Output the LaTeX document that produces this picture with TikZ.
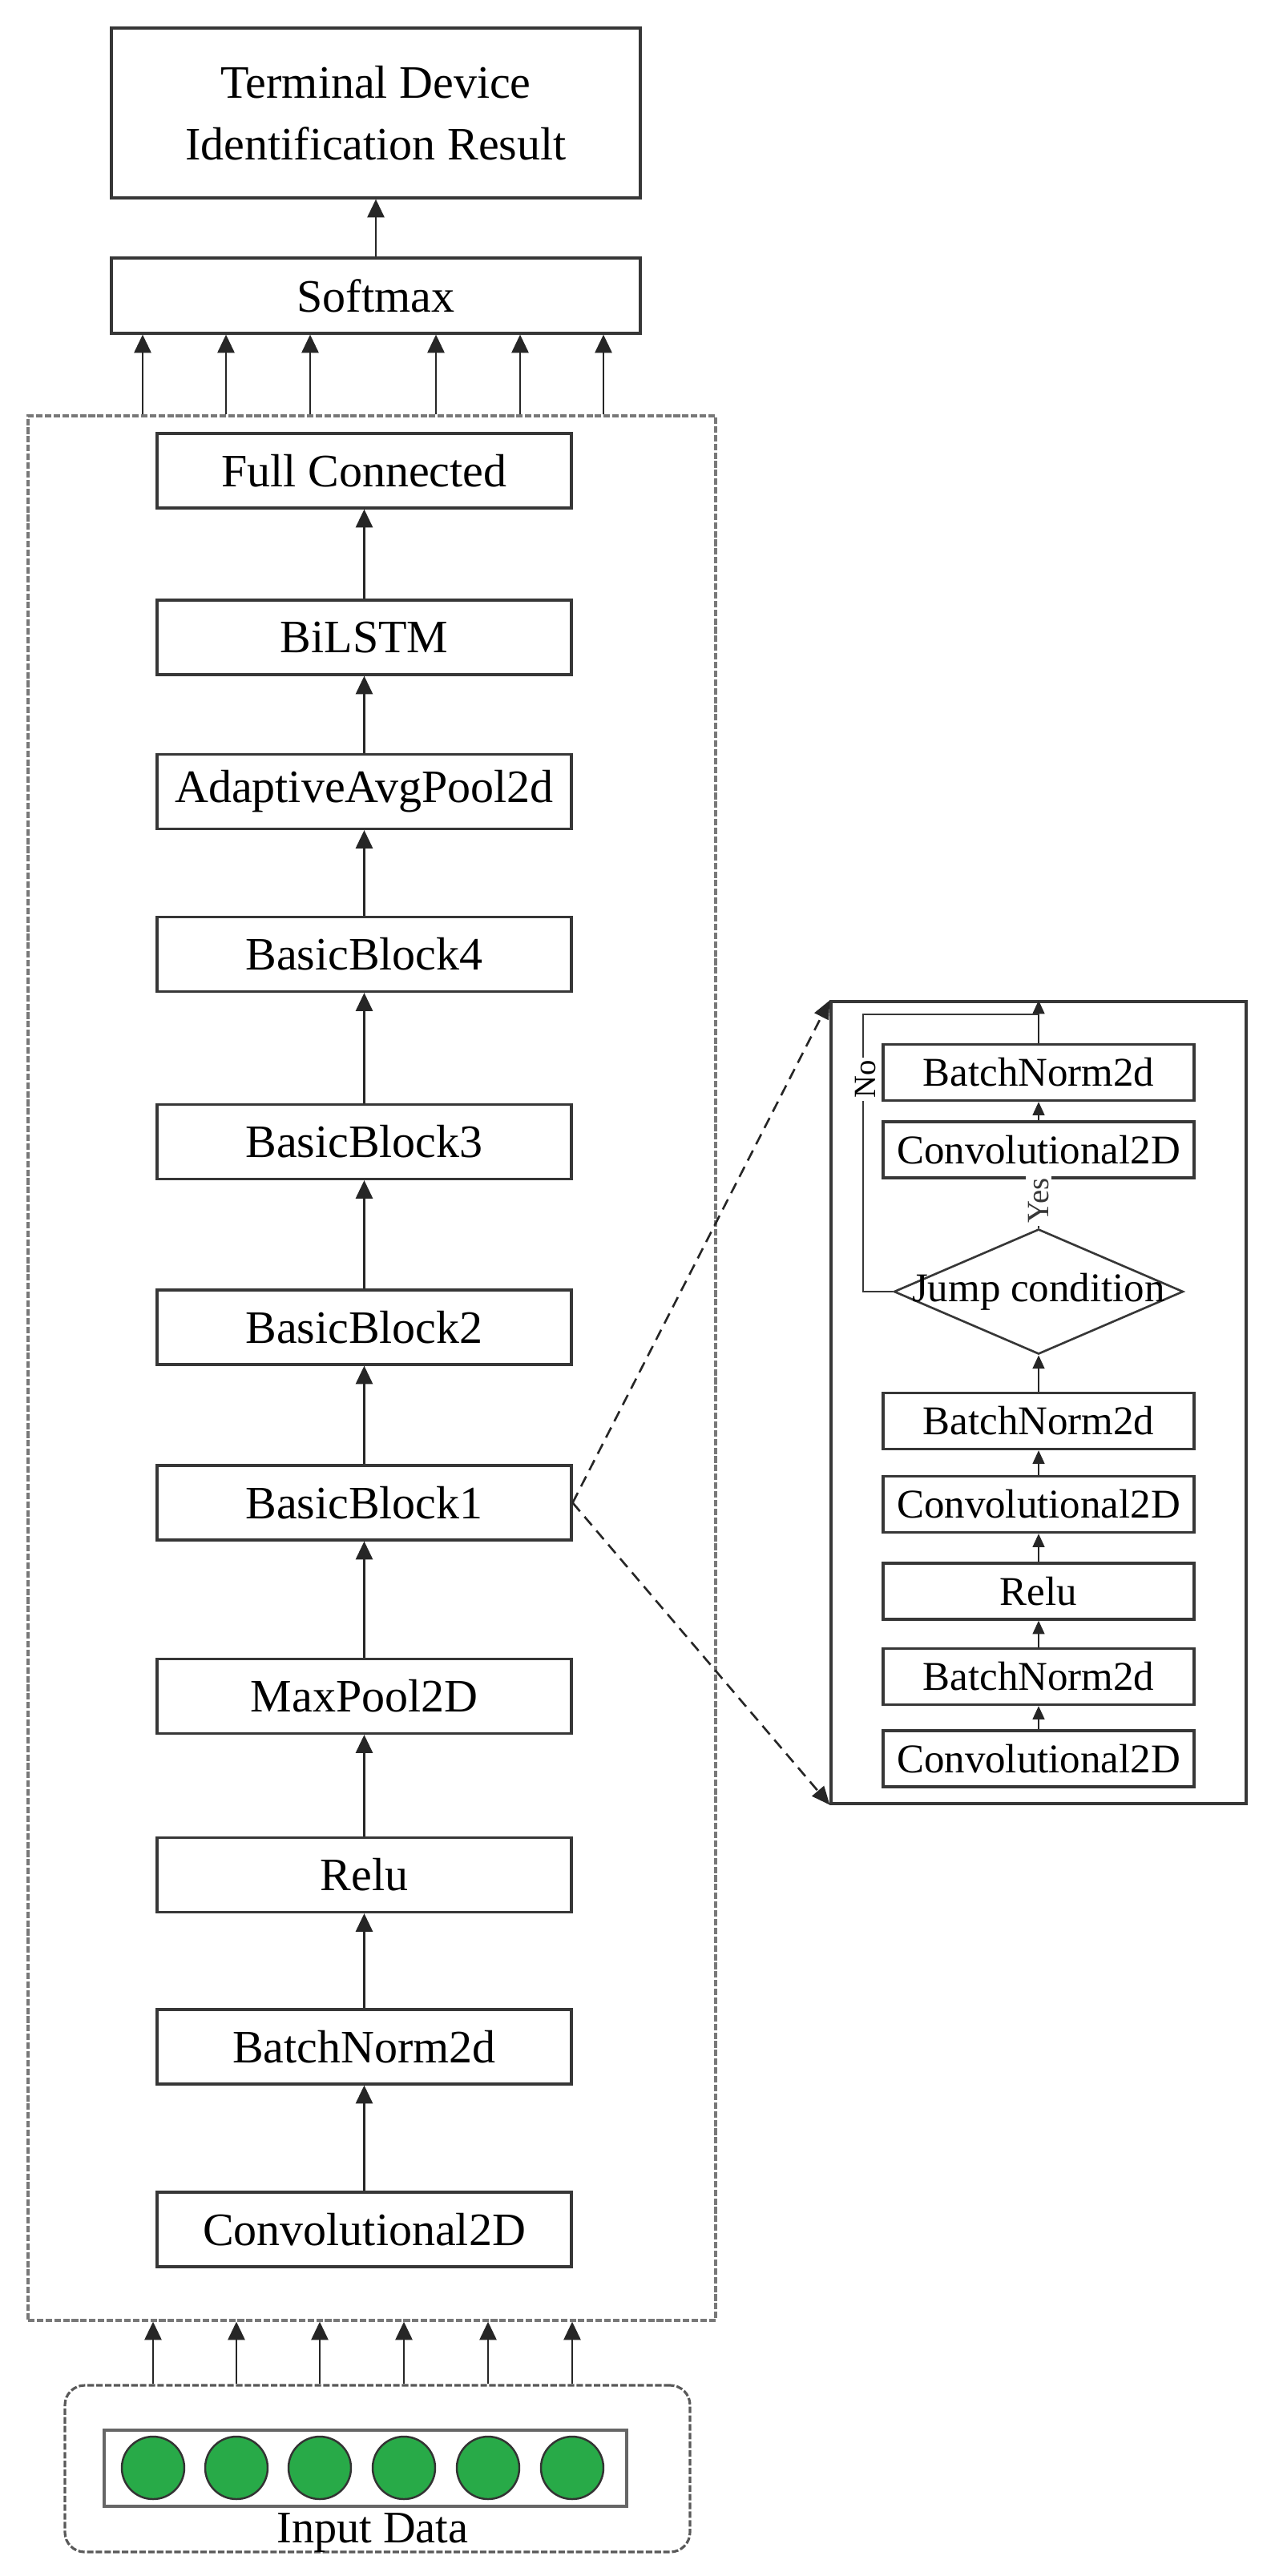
\documentclass[tikz,border=0pt]{standalone}
\usepackage{fontspec}
\setmainfont{Liberation Serif}
\usetikzlibrary{arrows.meta, positioning, shapes.geometric}
\definecolor{linegray}{RGB}{55,55,55}
\definecolor{framegray}{RGB}{120,120,120}
\definecolor{dotgreen}{RGB}{40,170,72}
\tikzset{
  layer/.style    = {draw=linegray, line width=0.9pt, minimum width=5.17cm,
                     minimum height=0.93cm, inner sep=0pt, font=\fontsize{16.5}{22}\selectfont},
  sublayer/.style = {draw=linegray, line width=0.9pt, minimum width=3.88cm,
                     minimum height=0.70cm, inner sep=0pt, font=\fontsize{14.5}{17}\selectfont},
  jumpbox/.style  = {diamond, draw=linegray, line width=0.75pt, minimum width=3.61cm,
                     minimum height=1.56cm, inner sep=0pt},
  arrow/.style    = {-{Triangle[length=6.5pt,width=6pt]}, line width=0.8pt, color=black!85},
  subarrow/.style = {-{Triangle[length=4.8pt,width=4.2pt]}, line width=0.7pt, color=black!85},
  plain/.style    = {line width=0.8pt, color=linegray},
  frame/.style    = {draw=framegray, line width=0.9pt, dash pattern=on 2.3pt off 0.8pt},
  zoomline/.style = {-{Triangle[length=6.5pt,width=5.5pt]}, line width=0.75pt, color=black!85,
                     dash pattern=on 4pt off 2.5pt},
  unit/.style     = {circle, draw=black!80, line width=0.7pt, fill=dotgreen,
                     minimum size=0.78cm, inner sep=0pt},
  tag/.style      = {fill=white, inner sep=1pt, rotate=90, font=\fontsize{11}{13}\selectfont},
}

\begin{document}
\begin{tikzpicture}
  \useasboundingbox (0,0) rectangle (15.86,-32.15);

  % output part
  \node[layer, minimum width=6.6cm, minimum height=2.12cm, align=center] (result) at (4.69,-1.41)
    {Terminal Device\\Identification Result};
  \node[layer, minimum width=6.6cm, minimum height=0.94cm] (softmax) at (4.69,-3.69) {Softmax};
  \draw[arrow] (softmax) -- (result);

  % main network
  \node[frame, minimum width=8.58cm, minimum height=23.77cm] (cnn) at (4.64,-17.075) {};
  \foreach \name/\txt/\y in {fc/Full Connected/5.875, lstm/BiLSTM/7.955, pool/AdaptiveAvgPool2d/9.88,
      bb4/BasicBlock4/11.91, bb3/BasicBlock3/14.25, bb2/BasicBlock2/16.565, bb1/BasicBlock1/18.755,
      maxp/MaxPool2D/21.17, relu/Relu/23.40, bn/BatchNorm2d/25.545, conv/Convolutional2D/27.825}
    \node[layer] (\name) at (4.545,-\y) {\txt};
  \foreach \a/\b in {conv/bn, bn/relu, relu/maxp, maxp/bb1, bb1/bb2, bb2/bb3, bb3/bb4,
      bb4/pool, pool/lstm, lstm/fc}
    \draw[arrow] (\a) -- (\b);
  \foreach \x in {1.78, 2.82, 3.87, 5.44, 6.49, 7.53}
    \draw[arrow] (\x,0 |- cnn.north) -- (\x,0 |- softmax.south);

  % input data
  \node[frame, draw=black!65, rounded corners=7pt, minimum width=7.80cm, minimum height=2.08cm] (input) at (4.71,-30.81) {};
  \node[draw=black!60, line width=1.1pt, minimum width=6.52cm, minimum height=0.95cm] (seq) at (4.56,-30.805) {};
  \foreach \i/\x in {1/1.91, 2/2.95, 3/3.99, 4/5.04, 5/6.09, 6/7.14} {
    \node[unit] (u\i) at (\x,-30.80) {};
    \draw[arrow] (\x,0 |- input.north) -- (\x,0 |- cnn.south);
  }
  \node[font=\fontsize{16}{20}\selectfont, anchor=base] (inlabel) at (4.65,-31.73) {Input Data};

  % basic block detail
  \node[draw=linegray, line width=0.9pt, minimum width=5.18cm, minimum height=10.01cm] (zoom) at (12.96,-17.505) {};
  \foreach \name/\txt/\y in {sbn3/BatchNorm2d/13.385, sconv3/Convolutional2D/14.35,
      sbn2/BatchNorm2d/17.735, sconv2/Convolutional2D/18.775, srelu/Relu/19.86,
      sbn1/BatchNorm2d/20.925, sconv1/Convolutional2D/21.95}
    \node[sublayer] (\name) at (12.96,-\y) {\txt};
  \node[jumpbox, label={[font=\fontsize{14.5}{17}\selectfont]center:Jump condition}] (jump) at (12.96,-16.12) {};
  \foreach \a/\b in {sconv1/sbn1, sbn1/srelu, srelu/sconv2, sconv2/sbn2, sbn2/jump, sconv3/sbn3}
    \draw[subarrow] (\a) -- (\b);
  \draw[plain] (jump.north) -- (sconv3.south) node[tag, midway, xshift=1pt] (yes) {Yes};
  \draw[subarrow] (sbn3.north) -- (sbn3.north |- zoom.north);
  \coordinate (loop) at (10.77,-12.66);
  \draw[plain] (jump.west) -| (loop) -- (loop -| sbn3.north);
  \node[tag] (no) at (10.80,-13.47) {No};

  % zoom connectors
  \draw[zoomline] (bb1.east) -- (zoom.north west);
  \draw[zoomline] (bb1.east) -- (zoom.south west);
\end{tikzpicture}
\end{document}
